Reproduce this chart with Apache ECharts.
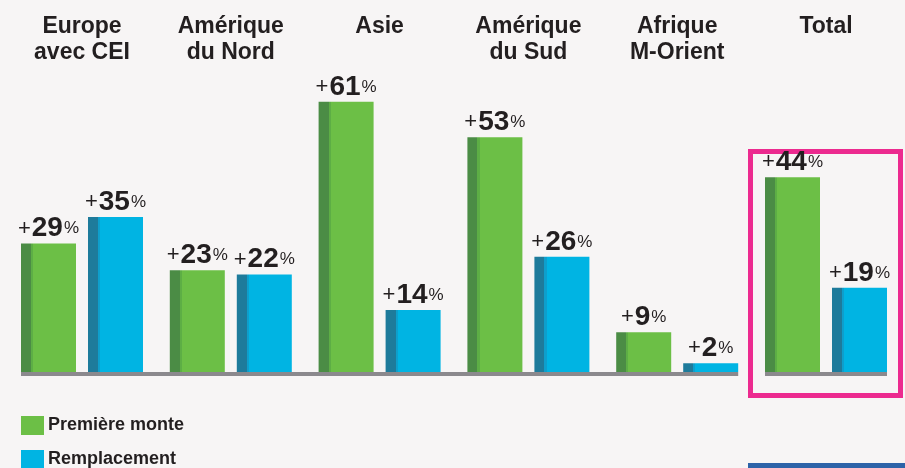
<!DOCTYPE html>
<html><head><meta charset="utf-8">
<script src="https://cdn.jsdelivr.net/npm/echarts@6/dist/echarts.min.js"></script>
<style>html,body{margin:0;padding:0;background:#f7f5f5;}#c{width:905px;height:468px;}</style>
</head><body><div id="c"></div>
<script>
const categories = ["Europe\navec CEI", "Amérique\ndu Nord", "Asie", "Amérique\ndu Sud", "Afrique\nM-Orient", "Total"];
const premiereMonte = [29, 23, 61, 53, 9, 44];
const remplacement = [35, 22, 14, 26, 2, 19];
const baselineGroups = [[0, 4], [5, 5]];
const legendNames = ['Première monte', 'Remplacement'];

const FONT = '"Liberation Sans", Arial, Helvetica, sans-serif';
const BAR_W = 55, GAP = 12;
const half = BAR_W + GAP / 2;
const GREEN = '#6cbf46', BLUE = '#00b4e3';

function grad(dark, mid, main) {
  return new echarts.graphic.LinearGradient(0, 0, 1, 0, [
    {offset: 0, color: dark}, {offset: 0.18, color: dark},
    {offset: 0.18, color: mid}, {offset: 0.22, color: mid},
    {offset: 0.22, color: main}, {offset: 1, color: main}
  ]);
}
const labelCfg = {
  show: true, position: 'top', distance: 1,
  formatter: p => '{p|+}{n|' + p.value + '}{s|%}',
  rich: {
    p: {fontFamily: FONT, fontSize: 22, color: '#231f20', fontWeight: 'normal', padding: [0, 1, 0, 0]},
    n: {fontFamily: FONT, fontSize: 28, color: '#231f20', fontWeight: 'bold', padding: [0, 1, 0, 0]},
    s: {fontFamily: FONT, fontSize: 17, color: '#231f20', fontWeight: 'normal'}
  }
};
function legendAt(top, name, color) {
  return {
    orient: 'vertical', left: 21, top: top, padding: 0, itemWidth: 23, itemHeight: 19,
    icon: 'rect', selectedMode: false, itemGap: 0,
    textStyle: {fontFamily: FONT, fontSize: 18, fontWeight: 'bold', color: '#231f20', padding: [0, 0, 0, -1]},
    data: [{name: name, itemStyle: {color: color}}]
  };
}

const chart = echarts.init(document.getElementById('c'));
chart.setOption({
  backgroundColor: '#f7f5f5',
  animation: false,
  grid: {left: 7.6, right: 4.6, top: 62, bottom: 96},
  legend: [legendAt(416, legendNames[0], GREEN), legendAt(450, legendNames[1], BLUE)],
  xAxis: {
    type: 'category', data: categories, position: 'top',
    axisLine: {show: false}, axisTick: {show: false},
    axisLabel: {
      fontFamily: FONT, fontSize: 23, fontWeight: 'bold', color: '#231f20',
      lineHeight: 26, verticalAlign: 'top', margin: 48, interval: 0
    }
  },
  yAxis: {type: 'value', min: 0, max: 70, show: false, splitLine: {show: false}},
  series: [
    {
      name: legendNames[0], type: 'bar', data: premiereMonte,
      barWidth: BAR_W, barGap: (GAP / BAR_W * 100) + '%',
      itemStyle: {color: grad('#4b8c45', '#5dae45', GREEN)},
      label: labelCfg
    },
    {
      name: legendNames[1], type: 'bar', data: remplacement,
      barWidth: BAR_W,
      itemStyle: {color: grad('#1e7b9b', '#0e9fcc', BLUE)},
      label: labelCfg
    },
    {
      type: 'custom', data: baselineGroups, z: 5, silent: true,
      renderItem: (params, api) => {
        const a = api.coord([api.value(0), 0]);
        const b = api.coord([api.value(1), 0]);
        return {type: 'rect', shape: {x: a[0] - half, y: a[1], width: b[0] - a[0] + 2 * half, height: 4},
                style: {fill: '#8b898d'}};
      }
    }
  ],
  graphic: [
    {type: 'rect', shape: {x: 750.5, y: 151.5, width: 150, height: 244},
     style: {fill: 'none', stroke: '#ec2a8f', lineWidth: 5}},
    {type: 'rect', shape: {x: 748, y: 463, width: 157, height: 5},
     style: {fill: '#2d63a8'}}
  ]
});
</script></body></html>
